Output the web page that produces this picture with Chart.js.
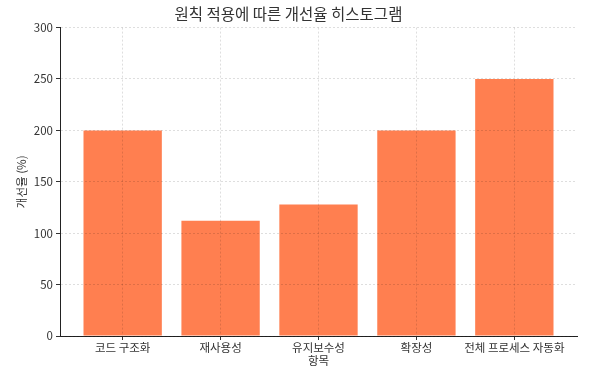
<!DOCTYPE html>
<html>
<head>
<meta charset="utf-8">
<script src="https://cdn.jsdelivr.net/npm/chart.js@4"></script>
<style>
  html, body { margin: 0; padding: 0; background: #fff; }
  #wrap { width: 600px; height: 369px; }
</style>
</head>
<body>
<div id="wrap"><canvas id="histChart"></canvas></div>
<script>
// 데이터
const categories = ['코드 구조화', '재사용성', '유지보수성', '확장성', '전체 프로세스 자동화'];
const improvement = [200, 112, 128, 200, 250];
const yTicks = [0, 50, 100, 150, 200, 250, 300];

const fontFamily = '"Noto Sans CJK KR", "Noto Sans", sans-serif';
const gridColor = 'rgba(0,0,0,0.13)';

const ctx = document.getElementById('histChart').getContext('2d');
new Chart(ctx, {
  type: 'bar',
  data: {
    datasets: [{
      label: '개선율',
      data: categories.map((c, i) => ({ x: i, y: improvement[i] })),
      backgroundColor: '#FF7F50',
      borderWidth: 0,
      barPercentage: 0.8,
      categoryPercentage: 1.0
    }]
  },
  options: {
    responsive: true,
    maintainAspectRatio: false,
    animation: false,
    layout: { padding: { left: 0, right: 23, top: 0, bottom: 0 } },
    plugins: {
      legend: { display: false },
      tooltip: { enabled: false },
      title: {
        display: true,
        text: '원칙 적용에 따른 개선율 히스토그램',
        color: '#333',
        font: { family: fontFamily, size: 15.5, weight: 'normal' },
        padding: { top: 5, bottom: 4 }
      }
    },
    scales: {
      x: {
        type: 'linear',
        offset: false,
        min: -0.64,
        max: 4.64,
        afterBuildTicks: function(scale) {
          scale.ticks = categories.map((c, i) => ({ value: i }));
        },
        afterFit: function(scale) { scale.height = 33; },
        ticks: {
          callback: function(v) { return categories[v]; },
          color: '#333',
          font: { family: fontFamily, size: 11.5 },
          padding: 1,
          maxRotation: 0,
          autoSkip: false
        },
        grid: {
          offset: false,
          z: 1,
          color: gridColor,
          tickColor: '#333',
          tickLength: 4,
          tickBorderDash: []
        },
        border: { display: true, color: '#222', width: 1, dash: [2, 2], z: 1 },
        title: {
          display: true,
          text: '항목',
          color: '#333',
          font: { family: fontFamily, size: 11.5 },
          padding: { top: 0, bottom: 1 }
        }
      },
      y: {
        min: 0,
        max: 300,
        afterBuildTicks: function(scale) {
          scale.ticks = yTicks.map(v => ({ value: v }));
        },
        afterFit: function(scale) { scale.width = 60; },
        ticks: {
          color: '#333',
          font: { family: fontFamily, size: 11.5 },
          padding: 3
        },
        grid: {
          z: 1,
          color: gridColor,
          tickColor: '#333',
          tickLength: 4,
          tickBorderDash: []
        },
        border: { display: true, color: '#222', width: 1, dash: [2, 2], z: 1 },
        title: {
          display: true,
          text: '개선율 (%)',
          color: '#333',
          font: { family: fontFamily, size: 11.5 },
          padding: { top: 15, bottom: 0 }
        }
      }
    }
  }
});
</script>
</body>
</html>
